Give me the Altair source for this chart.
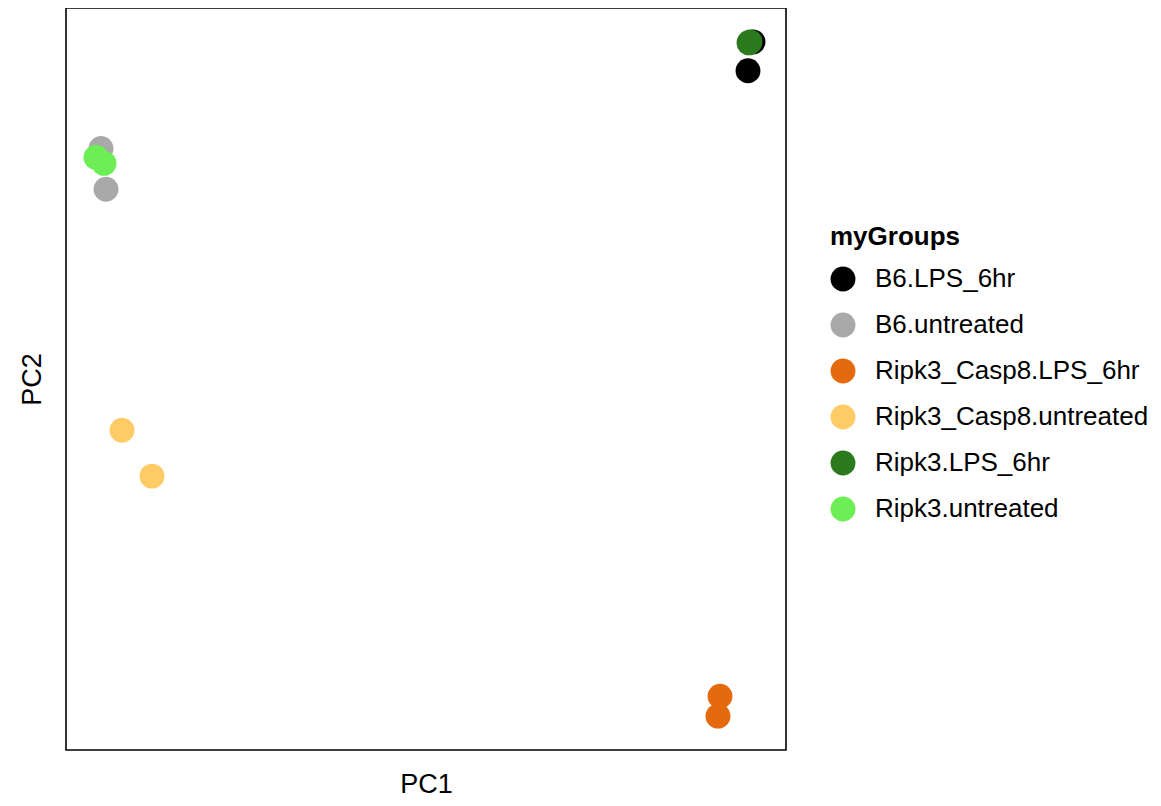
import altair as alt
import pandas as pd

groups = ["B6.LPS_6hr", "B6.LPS_6hr",
          "B6.untreated", "B6.untreated",
          "Ripk3_Casp8.LPS_6hr", "Ripk3_Casp8.LPS_6hr",
          "Ripk3_Casp8.untreated", "Ripk3_Casp8.untreated",
          "Ripk3.LPS_6hr", "Ripk3.LPS_6hr",
          "Ripk3.untreated", "Ripk3.untreated"]
pc1 = [32.8, 32.3, -32.4, -31.9, 29.5, 29.3, -30.3, -27.3, 32.5, 32.4, -32.9, -32.1]
pc2 = [34.0, 31.1, 23.3, 19.2, -31.7, -33.7, -5.0, -9.6, 34.0, 33.9, 22.4, 21.8]

group_order = ["B6.LPS_6hr", "B6.untreated", "Ripk3_Casp8.LPS_6hr",
               "Ripk3_Casp8.untreated", "Ripk3.LPS_6hr", "Ripk3.untreated"]
group_colors = ["#000000", "#A9A9A9", "#E56A0D", "#FFCB66", "#2B7A1D", "#6CEE54"]

df = pd.DataFrame({"PC1": pc1, "PC2": pc2, "myGroups": groups})
df["order"] = range(len(df))

FONT = "Liberation Sans"

chart = alt.Chart(df).mark_circle(size=620, opacity=1).encode(
    x=alt.X("PC1:Q", scale=alt.Scale(domain=[-35.9, 36.1], nice=False, zero=False),
            axis=alt.Axis(title="PC1", labels=False, ticks=False, grid=False, domain=False,
                          titleFontSize=27, titleFont=FONT, titleFontWeight="normal",
                          titleColor="black", titlePadding=21)),
    y=alt.Y("PC2:Q", scale=alt.Scale(domain=[-37.1, 37.4], nice=False, zero=False),
            axis=alt.Axis(title="PC2", labels=False, ticks=False, grid=False, domain=False,
                          titleFontSize=27, titleFont=FONT, titleFontWeight="normal",
                          titleColor="black", titlePadding=20)),
    color=alt.Color("myGroups:N",
                    scale=alt.Scale(domain=group_order, range=group_colors),
                    legend=alt.Legend(title="myGroups", orient="none", legendX=764, legendY=216,
                                      titleFontSize=26, titleFont=FONT, titleFontWeight="bold",
                                      titleColor="black", labelFontSize=26, labelFont=FONT,
                                      labelColor="black", labelLimit=0, symbolType="circle",
                                      symbolSize=620, symbolStrokeWidth=0, symbolOpacity=1,
                                      rowPadding=20, labelOffset=19, titlePadding=16)),
    order=alt.Order("order:Q"),
).properties(
    width=720, height=742,
    autosize=alt.AutoSizeParams(type="none"),
    padding={"left": 58, "top": 0, "right": 365, "bottom": 48},
    background="white",
).configure_view(
    stroke="black", strokeWidth=1.6
)

chart.save("out.html", embed_options={"renderer": "svg", "actions": False})
